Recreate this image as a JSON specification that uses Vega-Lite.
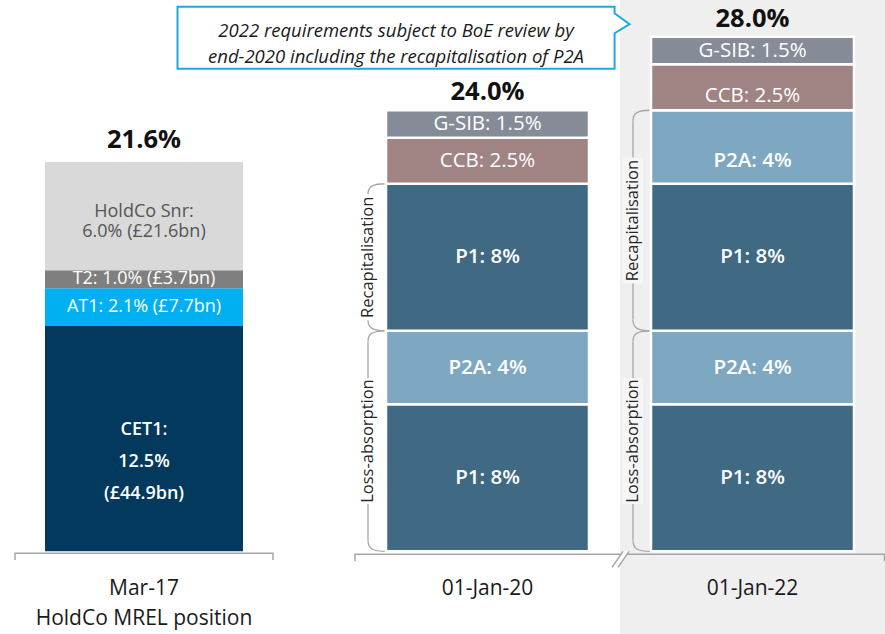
{
  "$schema": "https://vega.github.io/schema/vega-lite/v6.json",
  "padding": 0,
  "spacing": 67,
  "bounds": "flush",
  "background": "white",
  "config": {"view": {"stroke": null}, "font": "Open Sans"},
  "resolve": {"scale": {"x": "independent", "y": "independent", "color": "independent"}},
  "datasets": {
    "segs": [
      {"period": "Mar-17", "idx": 1, "seg": "CET1", "pct": 12.5, "label": "CET1:\n12.5%\n(£44.9bn)"},
      {"period": "Mar-17", "idx": 2, "seg": "AT1", "pct": 2.1, "label": "AT1: 2.1% (£7.7bn)"},
      {"period": "Mar-17", "idx": 3, "seg": "T2", "pct": 1.0, "label": "T2: 1.0% (£3.7bn)"},
      {"period": "Mar-17", "idx": 4, "seg": "HoldCo Snr", "pct": 6.0, "label": "HoldCo Snr:\n6.0% (£21.6bn)"},
      {"period": "01-Jan-20", "idx": 1, "seg": "P1", "pct": 8, "label": "P1: 8%"},
      {"period": "01-Jan-20", "idx": 2, "seg": "P2A", "pct": 4, "label": "P2A: 4%"},
      {"period": "01-Jan-20", "idx": 3, "seg": "P1", "pct": 8, "label": "P1: 8%"},
      {"period": "01-Jan-20", "idx": 4, "seg": "CCB", "pct": 2.5, "label": "CCB: 2.5%"},
      {"period": "01-Jan-20", "idx": 5, "seg": "G-SIB", "pct": 1.5, "label": "G-SIB: 1.5%"},
      {"period": "01-Jan-22", "idx": 1, "seg": "P1", "pct": 8, "label": "P1: 8%"},
      {"period": "01-Jan-22", "idx": 2, "seg": "P2A", "pct": 4, "label": "P2A: 4%"},
      {"period": "01-Jan-22", "idx": 3, "seg": "P1", "pct": 8, "label": "P1: 8%"},
      {"period": "01-Jan-22", "idx": 4, "seg": "P2A", "pct": 4, "label": "P2A: 4%"},
      {"period": "01-Jan-22", "idx": 5, "seg": "CCB", "pct": 2.5, "label": "CCB: 2.5%"},
      {"period": "01-Jan-22", "idx": 6, "seg": "G-SIB", "pct": 1.5, "label": "G-SIB: 1.5%"}
    ],
    "totals": [
      {"period": "Mar-17", "total": 21.6, "label": "21.6%"},
      {"period": "01-Jan-20", "total": 24.0, "label": "24.0%"},
      {"period": "01-Jan-22", "total": 28.0, "label": "28.0%"}
    ],
    "cats": [
      {"period": "Mar-17", "text": "Mar-17\nHoldCo MREL position"},
      {"period": "01-Jan-20", "text": "01-Jan-20"},
      {"period": "01-Jan-22", "text": "01-Jan-22"}
    ],
    "braces": [
      {"period": "01-Jan-20", "name": "Loss-absorption", "idx": 1, "lo": 0, "hi": 12, "span": 12},
      {"period": "01-Jan-20", "name": "Recapitalisation", "idx": 2, "lo": 12, "hi": 20, "span": 8},
      {"period": "01-Jan-22", "name": "Loss-absorption", "idx": 1, "lo": 0, "hi": 12, "span": 12},
      {"period": "01-Jan-22", "name": "Recapitalisation", "idx": 2, "lo": 12, "hi": 24, "span": 12}
    ],
    "note": [
      {"period": "01-Jan-20", "text": "2022 requirements subject to BoE review by\nend-2020 including the recapitalisation of P2A"}
    ]
  },
  "hconcat": [
    {
      "width": 288,
      "height": 634,
      "layer": [
        {
          "data": {"name": "segs"},
          "transform": [{"filter": "datum.period == 'Mar-17'"}],
          "mark": {"type": "bar", "width": {"band": 0.6875}},
          "encoding": {
            "x": {"field": "period", "type": "nominal", "axis": null, "scale": {"paddingInner": 0, "paddingOuter": 0}},
            "y": {"field": "pct", "type": "quantitative", "stack": "zero", "axis": null, "scale": {"domain": [-4.6, 30.6], "nice": false, "zero": false}},
            "color": {"field": "seg", "type": "nominal", "legend": null, "scale": {"domain": ["CET1", "AT1", "T2", "HoldCo Snr"], "range": ["#02395c", "#00b0f0", "#7f7f7f", "#d9d9d9"]}},
            "order": {"field": "idx", "type": "quantitative"},
            "detail": {"field": "idx"}
          }
        },
        {
          "data": {"name": "segs"},
          "transform": [{"filter": "datum.period == 'Mar-17'"}],
          "mark": {"type": "text", "fontSize": 18, "baseline": "middle", "align": "center", "color": "white"},
          "encoding": {
            "x": {"field": "period", "type": "nominal"},
            "y": {"field": "pct", "type": "quantitative", "stack": "zero", "bandPosition": 0.5},
            "order": {"field": "idx", "type": "quantitative"},
            "detail": {"field": "idx"},
            "text": {"field": "label"},
            "opacity": {"condition": {"test": "datum.seg == 'AT1' || datum.seg == 'T2'", "value": 1}, "value": 0}
          }
        },
        {
          "data": {"name": "segs"},
          "transform": [{"filter": "datum.period == 'Mar-17'"}],
          "mark": {"type": "text", "fontSize": 18, "lineBreak": "\n", "lineHeight": 20, "baseline": "middle", "align": "center", "dy": -4, "color": "#555555"},
          "encoding": {
            "x": {"field": "period", "type": "nominal"},
            "y": {"field": "pct", "type": "quantitative", "stack": "zero", "bandPosition": 0.5},
            "order": {"field": "idx", "type": "quantitative"},
            "detail": {"field": "idx"},
            "text": {"field": "label"},
            "opacity": {"condition": {"test": "datum.seg == 'HoldCo Snr'", "value": 1}, "value": 0}
          }
        },
        {
          "data": {"name": "segs"},
          "transform": [{"filter": "datum.period == 'Mar-17'"}],
          "mark": {"type": "text", "fontSize": 18, "fontWeight": 600, "lineBreak": "\n", "lineHeight": 32, "baseline": "middle", "align": "center", "dy": -9, "color": "white"},
          "encoding": {
            "x": {"field": "period", "type": "nominal"},
            "y": {"field": "pct", "type": "quantitative", "stack": "zero", "bandPosition": 0.5},
            "order": {"field": "idx", "type": "quantitative"},
            "detail": {"field": "idx"},
            "text": {"field": "label"},
            "opacity": {"condition": {"test": "datum.seg == 'CET1'", "value": 1}, "value": 0}
          }
        },
        {
          "data": {"name": "totals"},
          "transform": [{"filter": "datum.period == 'Mar-17'"}],
          "mark": {"type": "text", "fontSize": 25.5, "fontWeight": "bold", "baseline": "alphabetic", "align": "center", "dy": -14, "color": "#111111"},
          "encoding": {
            "x": {"field": "period", "type": "nominal"},
            "y": {"field": "total", "type": "quantitative"},
            "text": {"field": "label"}
          }
        },
        {
          "data": {"name": "cats"},
          "transform": [{"filter": "datum.period == 'Mar-17'"}],
          "mark": {"type": "text", "fontSize": 21, "lineBreak": "\n", "lineHeight": 30, "baseline": "top", "align": "center", "dy": 27, "color": "#1a1a1a"},
          "encoding": {
            "x": {"field": "period", "type": "nominal"},
            "y": {"datum": 0, "type": "quantitative"},
            "text": {"field": "text"}
          }
        },
        {
          "data": {"values": [{"period": "Mar-17"}]},
          "mark": {"type": "point", "shape": "M -1 0.054 L -1 0 L 1 0 L 1 0.054", "size": 66564, "filled": false, "stroke": "#a6a6a6", "strokeWidth": 1.5, "opacity": 1, "yOffset": 2},
          "encoding": {
            "x": {"field": "period", "type": "nominal"},
            "y": {"datum": 0, "type": "quantitative"}
          }
        }
      ]
    },
    {
      "width": 530,
      "height": 634,
      "layer": [
        {
          "data": {"values": [{"period": "01-Jan-22"}]},
          "mark": {"type": "rect", "color": "#efefef"},
          "encoding": {
            "x": {"field": "period", "type": "nominal", "axis": null, "scale": {"domain": ["01-Jan-20", "01-Jan-22"], "paddingInner": 0, "paddingOuter": 0}},
            "y": {"datum": 30, "type": "quantitative", "axis": null, "scale": {"domain": [-4.5, 30], "nice": false, "zero": false}},
            "y2": {"datum": -4.5}
          }
        },
        {
          "data": {"values": [{"period": "01-Jan-22"}]},
          "mark": {"type": "point", "shape": "M -1 0.0264 L -1 0 L 1 0 L 1 0.0264", "size": 280370, "filled": false, "stroke": "#a6a6a6", "strokeWidth": 1.5, "opacity": 1, "xOffset": -132.75, "yOffset": 3},
          "encoding": {
            "x": {"field": "period", "type": "nominal"},
            "y": {"datum": 0, "type": "quantitative"}
          }
        },
        {
          "data": {"values": [{"period": "01-Jan-22"}]},
          "mark": {"type": "point", "shape": "M -0.9 0.8 L 0.2 -0.8 L 0.8 -0.8 L -0.3 0.8 Z", "size": 400, "filled": true, "color": "white", "strokeWidth": 0, "opacity": 1, "xOffset": -131.5, "yOffset": 8},
          "encoding": {
            "x": {"field": "period", "type": "nominal"},
            "y": {"datum": 0, "type": "quantitative"}
          }
        },
        {
          "data": {"values": [{"period": "01-Jan-22"}]},
          "mark": {"type": "point", "shape": "M -0.9 0.8 L 0.2 -0.8 M -0.3 0.8 L 0.8 -0.8", "size": 400, "filled": false, "stroke": "#a6a6a6", "strokeWidth": 1.5, "opacity": 1, "xOffset": -131.5, "yOffset": 8},
          "encoding": {
            "x": {"field": "period", "type": "nominal"},
            "y": {"datum": 0, "type": "quantitative"}
          }
        },
        {
          "data": {"name": "braces"},
          "mark": {"type": "rule", "xOffset": -119.5, "yOffset": 11, "y2Offset": -11, "color": "#a6a6a6", "strokeWidth": 1.3},
          "encoding": {
            "x": {"field": "period", "type": "nominal"},
            "y": {"field": "hi", "type": "quantitative"},
            "y2": {"field": "lo"}
          }
        },
        {
          "data": {"name": "braces"},
          "mark": {"type": "point", "shape": "M 1 -0.6 C -0.5 -0.6 -1 -0.3 -1 0.6", "size": 324, "filled": false, "stroke": "#a6a6a6", "strokeWidth": 1.3, "opacity": 1, "xOffset": -110.5, "yOffset": 5.4},
          "encoding": {
            "x": {"field": "period", "type": "nominal"},
            "y": {"field": "hi", "type": "quantitative"}
          }
        },
        {
          "data": {"name": "braces"},
          "mark": {"type": "point", "shape": "M -1 -0.6 C -1 0.3 -0.5 0.6 1 0.6", "size": 324, "filled": false, "stroke": "#a6a6a6", "strokeWidth": 1.3, "opacity": 1, "xOffset": -110.5, "yOffset": -5.4},
          "encoding": {
            "x": {"field": "period", "type": "nominal"},
            "y": {"field": "lo", "type": "quantitative"}
          }
        },
        {
          "data": {"name": "braces"},
          "mark": {"type": "point", "shape": "M -0.16 -1 L 0.16 -1 L 0.16 1 L -0.16 1 Z", "size": 15876, "filled": true, "strokeWidth": 0, "opacity": 1, "xOffset": -119.5},
          "encoding": {
            "x": {"field": "period", "type": "nominal"},
            "y": {"field": "span", "type": "quantitative", "stack": "zero", "bandPosition": 0.5},
            "order": {"field": "idx", "type": "quantitative"},
            "detail": {"field": "idx"},
            "fill": {"condition": {"test": "datum.period == '01-Jan-22'", "value": "#f6f6f6"}, "value": "white"}
          }
        },
        {
          "data": {"name": "braces"},
          "mark": {"type": "text", "fontSize": 16.5, "angle": 270, "align": "center", "baseline": "middle", "color": "#262626", "xOffset": -119.5},
          "encoding": {
            "x": {"field": "period", "type": "nominal"},
            "y": {"field": "span", "type": "quantitative", "stack": "zero", "bandPosition": 0.5},
            "order": {"field": "idx", "type": "quantitative"},
            "detail": {"field": "idx"},
            "text": {"field": "name"}
          }
        },
        {
          "data": {"name": "segs"},
          "transform": [{"filter": "datum.period != 'Mar-17'"}],
          "mark": {"type": "bar", "width": {"band": 0.766}, "stroke": "white", "strokeWidth": 2.5},
          "encoding": {
            "x": {"field": "period", "type": "nominal"},
            "y": {"field": "pct", "type": "quantitative", "stack": "zero"},
            "color": {"field": "seg", "type": "nominal", "legend": null, "scale": {"domain": ["P1", "P2A", "CCB", "G-SIB"], "range": ["#406a84", "#7ea8c1", "#a08383", "#858c97"]}},
            "order": {"field": "idx", "type": "quantitative"},
            "detail": {"field": "idx"}
          }
        },
        {
          "data": {"name": "segs"},
          "transform": [{"filter": "datum.period != 'Mar-17'"}],
          "mark": {"type": "text", "fontSize": 20.5, "baseline": "middle", "align": "center", "color": "white"},
          "encoding": {
            "x": {"field": "period", "type": "nominal"},
            "y": {"field": "pct", "type": "quantitative", "stack": "zero", "bandPosition": 0.5},
            "order": {"field": "idx", "type": "quantitative"},
            "detail": {"field": "idx"},
            "text": {"field": "label"},
            "opacity": {"condition": {"test": "datum.seg == 'G-SIB' || (datum.seg == 'CCB' && datum.period == '01-Jan-20')", "value": 1}, "value": 0}
          }
        },
        {
          "data": {"name": "segs"},
          "transform": [{"filter": "datum.period != 'Mar-17'"}],
          "mark": {"type": "text", "fontSize": 20.5, "baseline": "middle", "align": "center", "color": "white", "dy": 9},
          "encoding": {
            "x": {"field": "period", "type": "nominal"},
            "y": {"field": "pct", "type": "quantitative", "stack": "zero", "bandPosition": 0.5},
            "order": {"field": "idx", "type": "quantitative"},
            "detail": {"field": "idx"},
            "text": {"field": "label"},
            "opacity": {"condition": {"test": "datum.seg == 'CCB' && datum.period == '01-Jan-22'", "value": 1}, "value": 0}
          }
        },
        {
          "data": {"name": "segs"},
          "transform": [{"filter": "datum.period != 'Mar-17'"}],
          "mark": {"type": "text", "fontSize": 20.5, "fontWeight": 600, "baseline": "middle", "align": "center", "color": "white"},
          "encoding": {
            "x": {"field": "period", "type": "nominal"},
            "y": {"field": "pct", "type": "quantitative", "stack": "zero", "bandPosition": 0.5},
            "order": {"field": "idx", "type": "quantitative"},
            "detail": {"field": "idx"},
            "text": {"field": "label"},
            "opacity": {"condition": {"test": "(datum.seg == 'P1' || datum.seg == 'P2A') && !(datum.period == '01-Jan-22' && datum.idx == 4)", "value": 1}, "value": 0}
          }
        },
        {
          "data": {"name": "segs"},
          "transform": [{"filter": "datum.period != 'Mar-17'"}],
          "mark": {"type": "text", "fontSize": 20.5, "fontWeight": 600, "baseline": "middle", "align": "center", "color": "white", "dy": 14},
          "encoding": {
            "x": {"field": "period", "type": "nominal"},
            "y": {"field": "pct", "type": "quantitative", "stack": "zero", "bandPosition": 0.5},
            "order": {"field": "idx", "type": "quantitative"},
            "detail": {"field": "idx"},
            "text": {"field": "label"},
            "opacity": {"condition": {"test": "datum.period == '01-Jan-22' && datum.idx == 4", "value": 1}, "value": 0}
          }
        },
        {
          "data": {"name": "totals"},
          "transform": [{"filter": "datum.period != 'Mar-17'"}],
          "mark": {"type": "text", "fontSize": 25.5, "fontWeight": "bold", "baseline": "alphabetic", "align": "center", "dy": -10, "color": "#111111"},
          "encoding": {
            "x": {"field": "period", "type": "nominal"},
            "y": {"field": "total", "type": "quantitative"},
            "text": {"field": "label"}
          }
        },
        {
          "data": {"name": "cats"},
          "transform": [{"filter": "datum.period != 'Mar-17'"}],
          "mark": {"type": "text", "fontSize": 21, "lineBreak": "\n", "lineHeight": 30, "baseline": "top", "align": "center", "dy": 27, "color": "#1a1a1a"},
          "encoding": {
            "x": {"field": "period", "type": "nominal"},
            "y": {"datum": 0, "type": "quantitative"},
            "text": {"field": "text"}
          }
        },
        {
          "data": {"name": "note"},
          "mark": {"type": "point", "shape": "M -1 -0.137 L 0.934 -0.137 L 0.934 -0.108 L 1 -0.06 L 0.934 -0.02 L 0.934 0.137 L -1 0.137 Z", "size": 204304, "filled": true, "fill": "white", "stroke": "#1fa9e1", "strokeWidth": 2, "opacity": 1, "xOffset": -84, "yOffset": 1},
          "encoding": {
            "x": {"field": "period", "type": "nominal"},
            "y": {"datum": 28, "type": "quantitative"}
          }
        },
        {
          "data": {"name": "note"},
          "mark": {"type": "text", "fontSize": 18.5, "fontStyle": "italic", "lineBreak": "\n", "lineHeight": 26, "baseline": "alphabetic", "align": "center", "color": "#1a1a1a", "xOffset": -91.5},
          "encoding": {
            "x": {"field": "period", "type": "nominal"},
            "y": {"datum": 28, "type": "quantitative"},
            "text": {"field": "text"}
          }
        }
      ]
    }
  ]
}
